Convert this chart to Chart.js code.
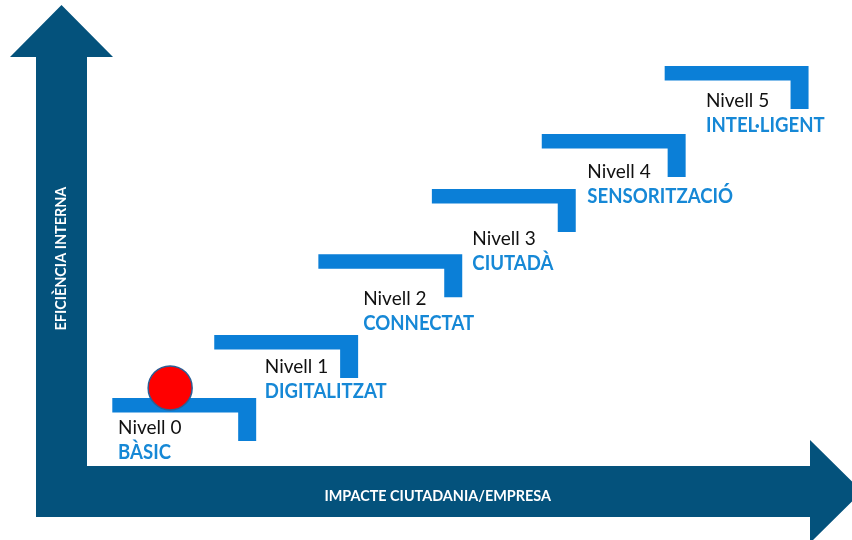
<!DOCTYPE html>
<html><head><meta charset="utf-8">
<script src="https://cdn.jsdelivr.net/npm/chart.js@4.4.1/dist/chart.umd.min.js"></script>
<style>html,body{margin:0;padding:0;background:#fff;} canvas{display:block;}</style>
</head><body>
<canvas id="c" width="852" height="540"></canvas>
<script>
// ---- data (units on the hidden 0..100 axes) ----
const levelLabels = ['Nivell 0', 'Nivell 1', 'Nivell 2', 'Nivell 3', 'Nivell 4', 'Nivell 5'];
const levelNames = ['BÀSIC', 'DIGITALITZAT', 'CONNECTAT', 'CIUTADÀ', 'SENSORITZACIÓ', 'INTEL·LIGENT'];
const stepImpact = [3.5, 17.6, 32.0, 47.7, 62.9, 79.9];        // left edge of each step (x)
const stepEfficiency = [16.6, 32.0, 51.8, 67.7, 81.2, 97.8];   // top of each step (y)
const labelImpact = [4.3, 24.6, 38.2, 53.3, 69.2, 85.6];
const labelEfficiency = [7.8, 22.7, 39.4, 54.0, 70.4, 87.8];
const currentLevel = [{x: 11.5, y: 19.1}];
const xAxisTitle = 'IMPACTE CIUTADANIA/EMPRESA';
const yAxisTitle = 'EFICIÈNCIA INTERNA';
const xTitlePos = 48.5;
const yTitlePos = 50.7;

function drawText(ctx, text, x, y, font, color, sx, align) {
  ctx.save();
  ctx.translate(x, y);
  ctx.scale(sx, 1);
  ctx.font = font;
  ctx.fillStyle = color;
  ctx.textAlign = align || 'left';
  ctx.textBaseline = 'alphabetic';
  ctx.fillText(text, 0, 0);
  ctx.restore();
}

const diagramPlugin = {
  id: 'diagram',
  beforeDatasetsDraw(chart, args, o) {
    const ctx = chart.ctx, xs = chart.scales.x, ys = chart.scales.y;
    const x0 = xs.getPixelForValue(0), y0 = ys.getPixelForValue(0);
    const xEnd = xs.getPixelForValue(100), yEnd = ys.getPixelForValue(100);
    const t = o.shaft, h = o.head, hl = o.headLen;
    ctx.save();
    ctx.fillStyle = o.axisColor;
    ctx.beginPath();
    ctx.moveTo(x0 - t, y0 + t);
    ctx.lineTo(x0 - t, yEnd);
    ctx.lineTo(x0 - t / 2 - h, yEnd);
    ctx.lineTo(x0 - t / 2, yEnd - hl);
    ctx.lineTo(x0 - t / 2 + h, yEnd);
    ctx.lineTo(x0, yEnd);
    ctx.lineTo(x0, y0);
    ctx.lineTo(xEnd, y0);
    ctx.lineTo(xEnd, y0 + t / 2 - h);
    ctx.lineTo(xEnd + hl, y0 + t / 2);
    ctx.lineTo(xEnd, y0 + t / 2 + h);
    ctx.lineTo(xEnd, y0 + t);
    ctx.closePath();
    ctx.fill();

    ctx.fillStyle = o.stepColor;
    for (let i = 0; i < stepImpact.length; i++) {
      const L = xs.getPixelForValue(stepImpact[i]);
      const R = xs.getPixelForValue(stepImpact[i] + o.stepSpan);
      const T = ys.getPixelForValue(stepEfficiency[i]);
      ctx.beginPath();
      ctx.moveTo(L, T);
      ctx.lineTo(R, T);
      ctx.lineTo(R, T + o.drop);
      ctx.lineTo(R - o.riser, T + o.drop);
      ctx.lineTo(R - o.riser, T + o.tread);
      ctx.lineTo(L, T + o.tread);
      ctx.closePath();
      ctx.fill();
    }
    ctx.restore();
  },
  afterDraw(chart, args, o) {
    const ctx = chart.ctx, xs = chart.scales.x, ys = chart.scales.y;
    for (let i = 0; i < levelLabels.length; i++) {
      const x = xs.getPixelForValue(labelImpact[i]);
      const y = ys.getPixelForValue(labelEfficiency[i]);
      drawText(ctx, levelLabels[i], x, y, o.levelFont, '#111111', o.levelScale);
      drawText(ctx, levelNames[i], x, y + o.nameGap, o.nameFont, o.nameColor, o.nameScale);
    }
    const x0 = xs.getPixelForValue(0), y0 = ys.getPixelForValue(0);
    drawText(ctx, xAxisTitle, xs.getPixelForValue(xTitlePos), y0 + 35, o.axisFont, '#ffffff', o.axisScale, 'center');
    ctx.save();
    ctx.translate(x0 - 21, ys.getPixelForValue(yTitlePos));
    ctx.rotate(-Math.PI / 2);
    drawText(ctx, yAxisTitle, 0, 0, o.axisFont, '#ffffff', o.axisScale, 'center');
    ctx.restore();
  }
};

new Chart(document.getElementById('c'), {
  type: 'scatter',
  data: {
    datasets: [{
      data: currentLevel,
      pointRadius: 22,
      pointHoverRadius: 22,
      backgroundColor: '#ff0000',
      borderColor: '#2b5f95',
      borderWidth: 1.5
    }]
  },
  options: {
    responsive: false,
    animation: false,
    devicePixelRatio: 1,
    layout: {padding: {left: 87, right: 42, top: 57, bottom: 74}},
    scales: {
      x: {type: 'linear', min: 0, max: 100, display: false},
      y: {type: 'linear', min: 0, max: 100, display: false}
    },
    plugins: {
      legend: {display: false},
      tooltip: {enabled: false},
      diagram: {
        axisColor: '#04527c',
        stepColor: '#0b7fd7',
        nameColor: '#1688d6',
        shaft: 51, head: 51.5, headLen: 52,
        stepSpan: 19.9, drop: 43, riser: 18, tread: 14.5,
        levelFont: '19px Lato', levelScale: 1.0,
        nameFont: 'bold 20px Lato', nameScale: 0.93, nameGap: 25,
        axisFont: 'bold 15px Lato', axisScale: 0.96
      }
    }
  },
  plugins: [diagramPlugin]
});
</script>
</body></html>
